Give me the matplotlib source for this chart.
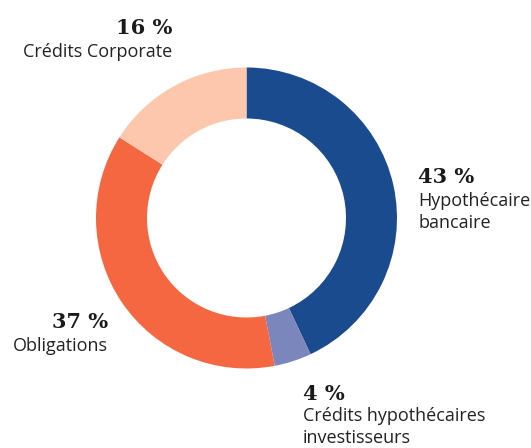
import matplotlib.pyplot as plt

# parts of the portfolio, clockwise from the top
labels = ['Hypothécaire\nbancaire', 'Crédits hypothécaires\ninvestisseurs', 'Obligations', 'Crédits Corporate']
values = [43, 4, 37, 16]
colors = ['#1b4b8f', '#7b86bd', '#f46740', '#fdc7ae']

W, H = 531, 448
fig = plt.figure(figsize=(W / 100, H / 100), dpi=100)
ax = fig.add_axes([0, 0, 1, 1])

ax.pie(values, colors=colors, startangle=90, counterclock=False,
       center=(246.5, H - 218), radius=150.5, frame=True,
       wedgeprops=dict(width=51, linewidth=0))
ax.set_xlim(0, W)
ax.set_ylim(0, H)
ax.axis('off')

pct_font = dict(family='DejaVu Serif', fontweight='bold', fontsize=15, color='#1a1a1a')
lab_font = dict(family='Open Sans', fontsize=13, color='#222222', linespacing=1.3)

# (x, y of percentage, y of label top, alignment) in pixels
spots = [(418, 177, 192, 'left'),
         (303, 394, 407, 'left'),
         (108, 322, 337, 'right'),
         (172, 28, 43, 'right')]

for (x, yp, yl, ha), v, lab in zip(spots, values, labels):
    ax.text(x, H - yp, f'{v} %', ha=ha, va='center', **pct_font)
    ax.text(x, H - yl, lab, ha=ha, va='top', **lab_font)

fig.savefig('out.png', dpi=100)
